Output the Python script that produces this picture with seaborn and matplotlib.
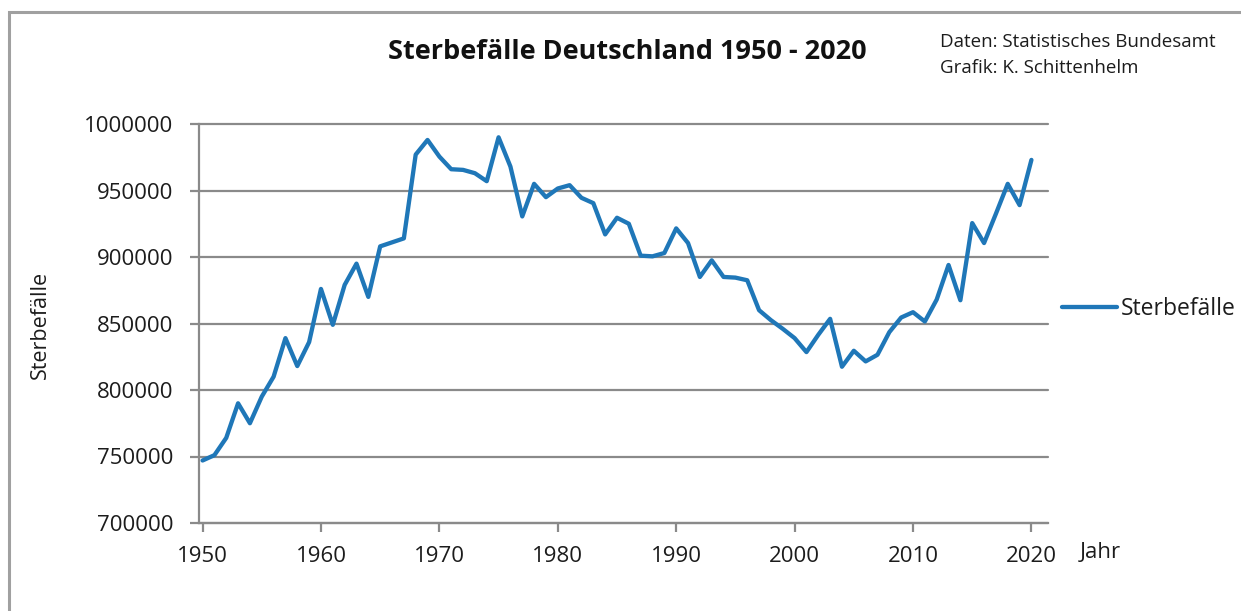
import pandas as pd
import matplotlib.pyplot as plt
import seaborn as sns
from matplotlib.patches import Rectangle

# Sterbefaelle Deutschland
jahre = list(range(1950, 2021))
sterbefaelle = [
    747000, 751000, 764000, 790000, 775000, 795000, 810000, 839000, 818000, 836000,  # 1950-1959
    876000, 849000, 879000, 895000, 870000, 908000, 911000, 914000, 977000, 988000,  # 1960-1969
    975500, 966000, 965500, 963000, 957000, 990000, 968000, 930500, 955000, 945000,  # 1970-1979
    951500, 954000, 944500, 940500, 917000, 929500, 925000, 901000, 900500, 903000,  # 1980-1989
    921500, 910500, 885000, 897500, 885000, 884500, 882500, 860000, 852500, 846000,  # 1990-1999
    839000, 828500, 841500, 853500, 817500, 829500, 821500, 826500, 843500, 854500,  # 2000-2009
    858500, 851500, 868000, 894000, 867500, 925500, 910500, 932500, 955000, 939000,  # 2010-2019
    973000,  # 2020
]
y_ticks = [700000, 750000, 800000, 850000, 900000, 950000, 1000000]
x_ticks = [1950, 1960, 1970, 1980, 1990, 2000, 2010, 2020]

df = pd.DataFrame({"Jahr": jahre, "Sterbefälle": sterbefaelle})

sns.set_style("white")
plt.rcParams["font.family"] = ["Open Sans", "DejaVu Sans"]

grau = "#8a8a8a"
blau = "#1f77b8"
schrift = "#1c1c1c"

fig = plt.figure(figsize=(12.41, 6.11), dpi=100)
ax = fig.add_axes([199 / 1241, 1 - 523 / 611, (1048 - 199) / 1241, (523 - 124) / 611])

sns.lineplot(data=df, x="Jahr", y="Sterbefälle", ax=ax, color=blau, linewidth=3.1,
             label="Sterbefälle")

ax.set_xlim(1949.7, 2021.4)
ax.set_ylim(700000, 1000000)
ax.set_xticks(x_ticks)
ax.set_yticks(y_ticks)
ax.set_yticklabels([str(v) for v in y_ticks])
ax.set_xlabel("")
ax.set_ylabel("")

for v in y_ticks:
    ax.axhline(v, color=grau, linewidth=1.6, zorder=0, clip_on=False)

for s in ["top", "right"]:
    ax.spines[s].set_visible(False)
for s in ["left", "bottom"]:
    ax.spines[s].set_color(grau)
    ax.spines[s].set_linewidth(1.6)

ax.tick_params(axis="both", which="major", direction="out", length=6.5, width=1.6,
               color=grau, labelsize=16, labelcolor=schrift)
ax.tick_params(axis="x", pad=10, bottom=True)
ax.tick_params(axis="y", pad=12, left=True)

leg = ax.legend(loc="center left", bbox_to_anchor=(1062 / 1241, 1 - 309 / 611),
                bbox_transform=fig.transFigure, frameon=False, fontsize=16.5,
                handlelength=2.4, handletextpad=0.15, borderpad=0, borderaxespad=0)
for t in leg.get_texts():
    t.set_color(schrift)

fig.text(627 / 1241, 1 - 52 / 611, "Sterbefälle Deutschland 1950 - 2020",
         ha="center", va="center", fontsize=19.5, fontweight="bold", color="#111111")
fig.text(940 / 1241, 1 - 42 / 611, "Daten: Statistisches Bundesamt",
         ha="left", va="center", fontsize=13.5, color=schrift)
fig.text(940 / 1241, 1 - 68 / 611, "Grafik: K. Schittenhelm",
         ha="left", va="center", fontsize=13.5, color=schrift)
fig.text(40 / 1241, 1 - 325 / 611, "Sterbefälle", rotation=90,
         ha="center", va="center", fontsize=15.5, color=schrift)
fig.text(1100 / 1241, 1 - 552 / 611, "Jahr", ha="center", va="center",
         fontsize=16, color=schrift)

# grauer Rahmen um die Grafik
fig.patches.append(Rectangle((9 / 1241, -0.2), 2, 1.2 - 12 / 611, transform=fig.transFigure,
                             fill=False, edgecolor="#a0a0a0", linewidth=2.2))

fig.savefig("out.png", dpi=100)
